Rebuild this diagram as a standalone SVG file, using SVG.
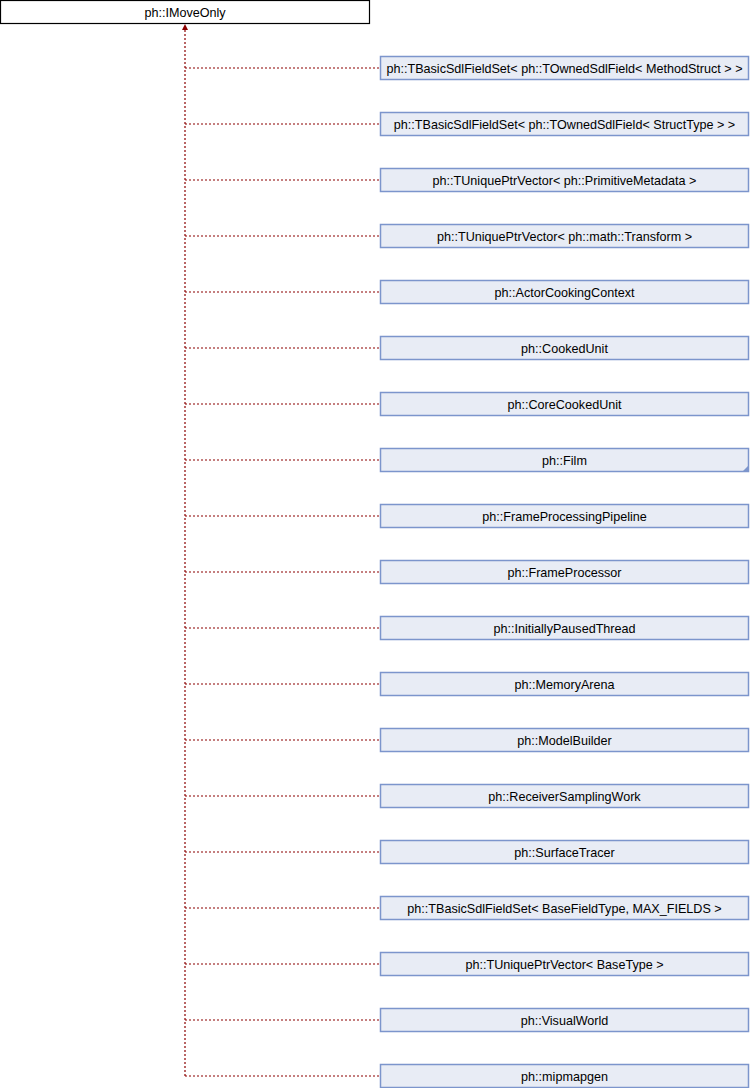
<svg xmlns="http://www.w3.org/2000/svg" width="750" height="1088" viewBox="0 0 750 1088">
<defs>
<style>
.n rect{fill:#E8ECF5;stroke:#7C95CC;stroke-width:1.5}
.b rect{fill:#FFFFFF;stroke:#000000;stroke-width:1.2}
text{font-family:"Liberation Sans",Arial,sans-serif;font-size:12.6px;fill:#000;text-anchor:middle}
.e{fill:none;stroke:#8B0000;stroke-width:1.2;stroke-dasharray:2,2}
.ah{fill:#8B0000;stroke:none}
</style>
</defs>
<rect width="750" height="1088" fill="#FFFFFF"/>
<g id="connectors">
<path class="e" d="M185,1076 V30"/>
<path class="ah" d="M185,24 L188,30 L182,30 Z"/>
<path class="e" d="M185,68 H380 M185,124 H380 M185,180 H380 M185,236 H380 M185,292 H380 M185,348 H380 M185,404 H380 M185,460 H380 M185,516 H380 M185,572 H380 M185,628 H380 M185,684 H380 M185,740 H380 M185,796 H380 M185,852 H380 M185,908 H380 M185,964 H380 M185,1020 H380 M185,1076 H380"/>
</g>
<g id="IMoveOnly" class="b"><rect x="0.5" y="0.5" width="369" height="23"/><text x="185" y="16.5">ph::IMoveOnly</text></g>
<g id="n1" class="n"><rect x="380.5" y="56.5" width="368" height="23"/><text x="564.5" y="72.5">ph::TBasicSdlFieldSet&lt; ph::TOwnedSdlField&lt; MethodStruct &gt; &gt;</text></g>
<g id="n2" class="n"><rect x="380.5" y="112.5" width="368" height="23"/><text x="564.5" y="128.5">ph::TBasicSdlFieldSet&lt; ph::TOwnedSdlField&lt; StructType &gt; &gt;</text></g>
<g id="n3" class="n"><rect x="380.5" y="168.5" width="368" height="23"/><text x="564.5" y="184.5">ph::TUniquePtrVector&lt; ph::PrimitiveMetadata &gt;</text></g>
<g id="n4" class="n"><rect x="380.5" y="224.5" width="368" height="23"/><text x="564.5" y="240.5">ph::TUniquePtrVector&lt; ph::math::Transform &gt;</text></g>
<g id="n5" class="n"><rect x="380.5" y="280.5" width="368" height="23"/><text x="564.5" y="296.5">ph::ActorCookingContext</text></g>
<g id="n6" class="n"><rect x="380.5" y="336.5" width="368" height="23"/><text x="564.5" y="352.5">ph::CookedUnit</text></g>
<g id="n7" class="n"><rect x="380.5" y="392.5" width="368" height="23"/><text x="564.5" y="408.5">ph::CoreCookedUnit</text></g>
<g id="n8" class="n"><rect x="380.5" y="448.5" width="368" height="23"/><text x="564.5" y="464.5">ph::Film</text><path d="M749,465 V472 H742 Z" fill="#7C95CC"/></g>
<g id="n9" class="n"><rect x="380.5" y="504.5" width="368" height="23"/><text x="564.5" y="520.5">ph::FrameProcessingPipeline</text></g>
<g id="n10" class="n"><rect x="380.5" y="560.5" width="368" height="23"/><text x="564.5" y="576.5">ph::FrameProcessor</text></g>
<g id="n11" class="n"><rect x="380.5" y="616.5" width="368" height="23"/><text x="564.5" y="632.5">ph::InitiallyPausedThread</text></g>
<g id="n12" class="n"><rect x="380.5" y="672.5" width="368" height="23"/><text x="564.5" y="688.5">ph::MemoryArena</text></g>
<g id="n13" class="n"><rect x="380.5" y="728.5" width="368" height="23"/><text x="564.5" y="744.5">ph::ModelBuilder</text></g>
<g id="n14" class="n"><rect x="380.5" y="784.5" width="368" height="23"/><text x="564.5" y="800.5">ph::ReceiverSamplingWork</text></g>
<g id="n15" class="n"><rect x="380.5" y="840.5" width="368" height="23"/><text x="564.5" y="856.5">ph::SurfaceTracer</text></g>
<g id="n16" class="n"><rect x="380.5" y="896.5" width="368" height="23"/><text x="564.5" y="912.5">ph::TBasicSdlFieldSet&lt; BaseFieldType, MAX_FIELDS &gt;</text></g>
<g id="n17" class="n"><rect x="380.5" y="952.5" width="368" height="23"/><text x="564.5" y="968.5">ph::TUniquePtrVector&lt; BaseType &gt;</text></g>
<g id="n18" class="n"><rect x="380.5" y="1008.5" width="368" height="23"/><text x="564.5" y="1024.5">ph::VisualWorld</text></g>
<g id="n19" class="n"><rect x="380.5" y="1064.5" width="368" height="23"/><text x="564.5" y="1080.5">ph::mipmapgen</text></g>
</svg>
